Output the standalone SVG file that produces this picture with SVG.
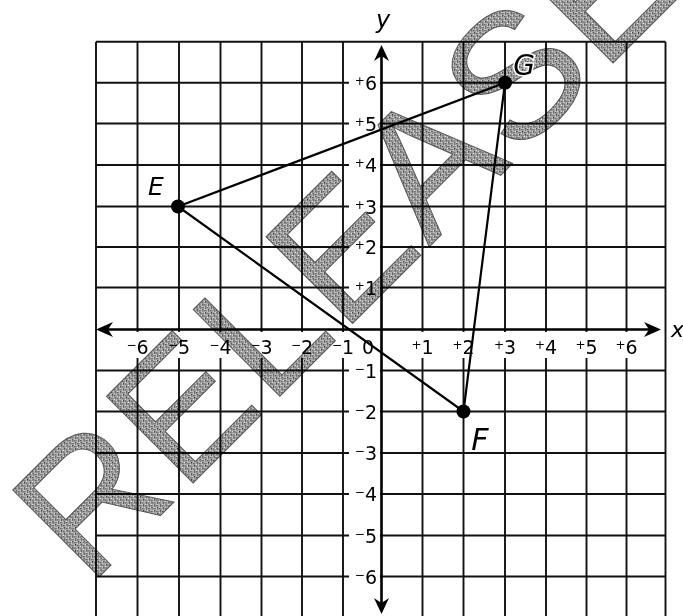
<svg xmlns="http://www.w3.org/2000/svg" width="683" height="616" viewBox="0 0 683 616">
<style>
.g{stroke:#111;stroke-width:1.9;fill:none}
.ax{stroke:#000;stroke-width:2.6;fill:none}
.lb{font-family:"DejaVu Sans",Verdana,sans-serif;font-size:19px;fill:#000}
.sg{font-size:12px}
.bg{fill:#fff}
.pl{font-family:"DejaVu Sans",Verdana,sans-serif;font-style:italic;fill:#000;stroke:#fff;stroke-width:3;paint-order:stroke}
.tri{stroke:#000;stroke-width:2.2;fill:none}
.wm{font-family:"Liberation Sans",Arial,sans-serif;font-size:178px;letter-spacing:4px;fill:url(#spk);stroke:#555;stroke-width:1;mix-blend-mode:multiply}
</style>
<defs>
<pattern id="spk" width="4" height="4" patternUnits="userSpaceOnUse">
<rect width="4" height="4" fill="#a4a4a4"/>
<rect x="0" y="0" width="1" height="1" fill="#222"/>
<rect x="2" y="1" width="1" height="1" fill="#fff"/>
<rect x="1" y="2" width="1" height="1" fill="#444"/>
<rect x="3" y="3" width="1" height="1" fill="#eee"/>
<rect x="3" y="1" width="1" height="1" fill="#555"/>
<rect x="2" y="3" width="1" height="1" fill="#777"/>
</pattern>
</defs>
<rect width="683" height="616" fill="#fff"/>
<g id="grid">
<path class="g" d="M96,41.7V616M137.5,41.7V616M179,41.7V616M220.5,41.7V616M261.5,41.7V616M302,41.7V616M343,41.7V616M422.5,41.7V616M463.5,41.7V616M505,41.7V616M546,41.7V616M586.5,41.7V616M626.5,41.7V616M665.5,41.7V616"/>
<path class="g" d="M96,41.7H665.5M96,82.7H665.5M96,123.5H665.5M96,165H665.5M96,206.5H665.5M96,247H665.5M96,287.5H665.5M96,370.5H665.5M96,411.5H665.5M96,453H665.5M96,494H665.5M96,535.5H665.5M96,576.5H665.5"/>
</g>
<g id="labels">
<g class="bg">
<rect x="349" y="72.7" width="31" height="20"/>
<rect x="349" y="113.5" width="31" height="20"/>
<rect x="349" y="155" width="31" height="20"/>
<rect x="349" y="196.5" width="31" height="20"/>
<rect x="349" y="237" width="31" height="20"/>
<rect x="349" y="277.5" width="31" height="20"/>
<rect x="349" y="360.5" width="31" height="20"/>
<rect x="349" y="401.5" width="31" height="20"/>
<rect x="349" y="443" width="31" height="20"/>
<rect x="349" y="484" width="31" height="20"/>
<rect x="349" y="525.5" width="31" height="20"/>
<rect x="349" y="566.5" width="31" height="20"/>
<rect x="123.5" y="332" width="28" height="26"/>
<rect x="165" y="332" width="28" height="26"/>
<rect x="206.5" y="332" width="28" height="26"/>
<rect x="247.5" y="332" width="28" height="26"/>
<rect x="288" y="332" width="28" height="26"/>
<rect x="329" y="332" width="28" height="26"/>
<rect x="358" y="332" width="21" height="26"/>
<rect x="408.5" y="332" width="28" height="26"/>
<rect x="449.5" y="332" width="28" height="26"/>
<rect x="491" y="332" width="28" height="26"/>
<rect x="532" y="332" width="28" height="26"/>
<rect x="572.5" y="332" width="28" height="26"/>
<rect x="612.5" y="332" width="28" height="26"/>
</g>
<g class="lb" text-anchor="end">
<text x="377" y="89.7"><tspan class="sg" dy="-5">+</tspan><tspan dy="5">6</tspan></text>
<text x="377" y="130.5"><tspan class="sg" dy="-5">+</tspan><tspan dy="5">5</tspan></text>
<text x="377" y="172"><tspan class="sg" dy="-5">+</tspan><tspan dy="5">4</tspan></text>
<text x="377" y="213.5"><tspan class="sg" dy="-5">+</tspan><tspan dy="5">3</tspan></text>
<text x="377" y="254"><tspan class="sg" dy="-5">+</tspan><tspan dy="5">2</tspan></text>
<text x="377" y="294.5"><tspan class="sg" dy="-5">+</tspan><tspan dy="5">1</tspan></text>
<text x="377" y="377.5"><tspan class="sg" dy="-5">−</tspan><tspan dy="5">1</tspan></text>
<text x="377" y="418.5"><tspan class="sg" dy="-5">−</tspan><tspan dy="5">2</tspan></text>
<text x="377" y="460"><tspan class="sg" dy="-5">−</tspan><tspan dy="5">3</tspan></text>
<text x="377" y="501"><tspan class="sg" dy="-5">−</tspan><tspan dy="5">4</tspan></text>
<text x="377" y="542.5"><tspan class="sg" dy="-5">−</tspan><tspan dy="5">5</tspan></text>
<text x="377" y="583.5"><tspan class="sg" dy="-5">−</tspan><tspan dy="5">6</tspan></text>
</g>
<g class="lb" text-anchor="middle">
<text x="137.5" y="354"><tspan class="sg" dy="-5">−</tspan><tspan dy="5">6</tspan></text>
<text x="179" y="354"><tspan class="sg" dy="-5">−</tspan><tspan dy="5">5</tspan></text>
<text x="220.5" y="354"><tspan class="sg" dy="-5">−</tspan><tspan dy="5">4</tspan></text>
<text x="261.5" y="354"><tspan class="sg" dy="-5">−</tspan><tspan dy="5">3</tspan></text>
<text x="302" y="354"><tspan class="sg" dy="-5">−</tspan><tspan dy="5">2</tspan></text>
<text x="343" y="354"><tspan class="sg" dy="-5">−</tspan><tspan dy="5">1</tspan></text>
<text x="368" y="354">0</text>
<text x="422.5" y="354"><tspan class="sg" dy="-5">+</tspan><tspan dy="5">1</tspan></text>
<text x="463.5" y="354"><tspan class="sg" dy="-5">+</tspan><tspan dy="5">2</tspan></text>
<text x="505" y="354"><tspan class="sg" dy="-5">+</tspan><tspan dy="5">3</tspan></text>
<text x="546" y="354"><tspan class="sg" dy="-5">+</tspan><tspan dy="5">4</tspan></text>
<text x="586.5" y="354"><tspan class="sg" dy="-5">+</tspan><tspan dy="5">5</tspan></text>
<text x="626.5" y="354"><tspan class="sg" dy="-5">+</tspan><tspan dy="5">6</tspan></text>
</g>
</g>
<g id="axes">
<path class="ax" d="M104,329.5H652M381.5,53V606"/>
<path fill="#000" d="M96,329.5L113,322L108,329.5L113,337Z"/>
<path fill="#000" d="M661,329.5L644,322L649,329.5L644,337Z"/>
<path fill="#000" d="M381.5,45L374,61L381.5,56L389,61Z"/>
<path fill="#000" d="M381.5,614L374,598L381.5,603L389,598Z"/>
<text class="pl" x="383" y="28" font-size="24" text-anchor="middle">y</text>
<text class="pl" x="671" y="337" font-size="22">x</text>
</g>
<g id="watermark">
<text class="wm" transform="translate(89,587) rotate(-45)">RELEASED</text>
</g>
<g id="connectors">
<path class="tri" d="M178,206.5L505,82.7L463.5,411.5Z"/>
</g>
<g id="pointE"><circle cx="178" cy="206.5" r="7"/><text class="pl" x="156" y="195" font-size="25" text-anchor="middle">E</text></g>
<g id="pointG"><circle cx="505" cy="82.7" r="7"/><text class="pl" x="524" y="75" font-size="28" text-anchor="middle">G</text></g>
<g id="pointF"><circle cx="463.5" cy="411.5" r="7"/><text class="pl" x="480" y="450" font-size="30" text-anchor="middle">F</text></g>
</svg>
